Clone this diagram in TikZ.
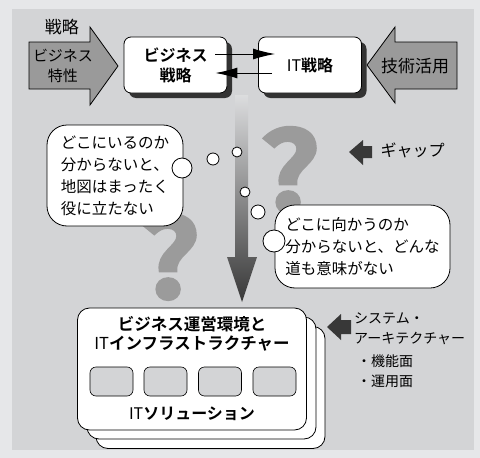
\documentclass[tikz,border=0pt]{standalone}
\usepackage{fontspec}
\newfontfamily\jp{Noto Sans CJK JP}[BoldFont={Noto Sans CJK JP Bold}]
\newfontfamily\qfont{Noto Sans CJK JP Bold}[FakeBold=3,FakeStretch=1.12]
\usetikzlibrary{arrows.meta,shadows}
\definecolor{outerbg}{HTML}{E6E7E9}
\definecolor{panelbg}{HTML}{D3D4D6}
\definecolor{blockgray}{HTML}{9A9A9A}
\definecolor{qgray}{HTML}{9B9B9B}
\definecolor{darkarrow}{HTML}{383838}

\begin{document}
\begin{tikzpicture}[x=1pt,y=-1pt,font=\jp\fontsize{16}{22}\selectfont]

    \tikzstyle{blockarrow}=[draw=black, fill=blockgray, line width=0.8pt]
    \tikzstyle{markarrow}=[fill=darkarrow]
    \tikzstyle{strat}=[draw=black, line width=0.8pt, fill=white, rounded corners=7pt, minimum width=103pt, minimum height=56pt, align=center, font=\jp\bfseries\fontsize{16}{20}\selectfont, drop shadow={shadow xshift=5pt, shadow yshift=-5pt, fill=black!80, opacity=1}]
    \tikzstyle{bubble}=[draw=black, line width=0.8pt, fill=white, rounded corners=20pt, align=left, inner sep=0pt, font=\jp\fontsize{15.5}{22}\selectfont]
    \tikzstyle{dot}=[circle, draw=black, line width=0.8pt, fill=white, inner sep=0pt]
    \tikzstyle{stack}=[draw=black, line width=0.8pt, fill=white, rounded corners=12pt, minimum width=229pt, minimum height=122pt]
    \tikzstyle{solbox}=[draw=black, line width=0.6pt, fill=panelbg, rounded corners=6pt, minimum width=43pt, minimum height=29pt]
    \tikzstyle{qmark}=[text=qgray, font=\qfont\fontsize{108}{108}\selectfont, anchor=base, inner sep=0pt]
    \tikzstyle{link}=[draw=black, line width=1pt, -{Latex[length=22pt,width=11pt]}]

    \useasboundingbox (0,0) rectangle (480,458);
    \fill[outerbg] (0,0) rectangle (480,458);
    \fill[panelbg] (12,9) rectangle (474,450);

    % gap arrow and question marks
    \shade[top color=panelbg!80!white, bottom color=black!78] (235,95) -- (248,95) -- (248,257) -- (257,257) -- (242,302) -- (227,257) -- (235,257) -- cycle;
    \node[qmark] (qleft) at (170,298) {?};
    \node[qmark] (qright) at (290,211) {?};

    % strategy row
    \node[font=\jp\fontsize{17}{20}\selectfont] (senryaku) at (62,27) {戦略};
    \draw[blockarrow] (29,42) -- (90,42) -- (90,27) -- (118,66) -- (90,105) -- (90,89) -- (29,89) -- cycle;
    \node[align=center, font=\jp\fontsize{15}{20}\selectfont] (bizchar) at (63,65.5) {ビジネス\\特性};
    \draw[blockarrow] (457,42) -- (395,42) -- (395,27) -- (367,65) -- (395,103) -- (395,89) -- (457,89) -- cycle;
    \node[font=\jp\fontsize{17}{20}\selectfont] (techuse) at (415,66) {技術活用};

    \node[strat] (bizbox) at (175.5,65) {ビジネス\\戦略};
    \node[strat] (itbox) at (310,65) {{\mdseries IT}戦略};

    \draw[link] ([xshift=-12pt,yshift=11pt]bizbox.east) -- ([xshift=17pt,yshift=11pt]itbox.west);
    \draw[link] ([xshift=14pt,yshift=-8pt]itbox.west) -- ([xshift=-12pt,yshift=-8pt]bizbox.east);

    % thought bubbles
    \node[bubble, minimum width=136pt, minimum height=101pt] (whereami) at (115,175.5) {どこにいるのか\\分からないと、\\地図はまったく\\役に立たない};
    \node[dot, minimum size=20pt] (tailA) at (182,168) {};
    \node[dot, minimum size=12pt] (dotA) at (213,159) {};
    \node[dot, minimum size=10pt] (dotB) at (237,152) {};
    \node[dot, minimum size=10pt] (dotC) at (245,192) {};
    \node[dot, minimum size=14pt] (dotD) at (258,212) {};

    \node[bubble, minimum width=175pt, minimum height=83pt] (whereto) at (362.5,246.5) {どこに向かうのか\\分からないと、どんな\\道も意味がない};
    \node[dot, minimum size=22pt] (tailB) at (274,241) {};

    \fill[markarrow] (349,152) -- (363,140) -- (363,146) -- (372,146) -- (372,158) -- (363,158) -- (363,165) -- cycle;
    \node[anchor=west] (gap) at (377,150) {ギャップ};

    % infrastructure stack
    \node[stack] (infraback) at (210.5,387.5) {};
    \node[stack] (inframid) at (201.5,378) {};
    \node[stack] (infrafront) at (192,369) {};
    \node[align=center, font=\jp\bfseries\fontsize{16.5}{19}\selectfont] (infratitle) at (192,334) {ビジネス運営環境と\\{\mdseries IT}インフラストラクチャー};
    \node[solbox] (solA) at (111.5,381.5) {};
    \node[solbox] (solB) at (165.5,381.5) {};
    \node[solbox] (solC) at (220,381.5) {};
    \node[solbox] (solD) at (274.5,381.5) {};
    \node[font=\jp\bfseries\fontsize{16}{20}\selectfont] (itsol) at (192,414) {{\mdseries IT}ソリューション};

    \fill[markarrow] (327,327) -- (341,314) -- (341,320) -- (351,320) -- (351,334) -- (341,334) -- (341,340) -- cycle;
    \node[anchor=north west, align=left, inner sep=0pt, font=\jp\fontsize{14}{20}\selectfont] (sysarch) at (354,313) {システム・\\アーキテクチャー\\[3pt]\hspace{3pt}・機能面\\\hspace{3pt}・運用面};

\end{tikzpicture}
\end{document}
